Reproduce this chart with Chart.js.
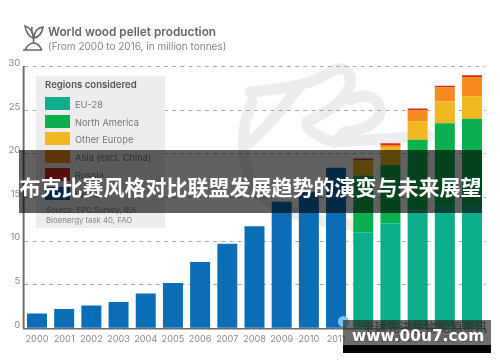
<!DOCTYPE html>
<html><head><meta charset="utf-8">
<script src="https://cdn.jsdelivr.net/npm/chart.js@4"></script>
<style>
html,body{margin:0;padding:0;background:#fff;width:500px;height:362px;overflow:hidden;font-family:Inter,"Open Sans",sans-serif}
.a{position:absolute;white-space:nowrap}
#art{position:absolute;left:0;top:0;filter:blur(.6px)}
#wrap{position:absolute;left:0;top:0;width:500px;height:362px;filter:blur(.45px)}
#legend{left:36px;top:76px;width:129px;height:152px;background:#ededed;filter:blur(.4px)}
.sw{position:absolute;left:9px;width:25px;height:13px}
.lb{position:absolute;left:39px;font-size:9.3px;color:#777;line-height:13px;white-space:nowrap}
</style></head><body>
<svg id="art" width="500" height="362" fill="none">
<g stroke="#ededed" stroke-width="11" stroke-linejoin="round" stroke-linecap="round">
<path d="M250 92 C290 88 310 85 330 72 C345 64 352 72 350 85 C345 105 320 115 307 122 C305 130 320 138 335 142"/>
<path d="M350 100 C368 92 378 98 380 110 C380 122 365 130 345 132 L335 142 L428 136"/>
<path d="M250 142 C265 130 285 105 300 86"/>
<path d="M252 102 C240 130 240 160 255 190 C280 215 320 222 360 226"/>
</g></svg>
<div id="wrap"><canvas id="c" width="500" height="362"></canvas></div>

<svg class="a" style="left:22px;top:24px;filter:blur(.4px)" width="24" height="28" fill="none" stroke="#666" stroke-width="1.6">
<path d="M3 2 C4 9 8 13 11 14 C12 9 9 4 3 2Z"/><path d="M21 3 C15 4 12 8 12 14 C17 13 20 9 21 3Z"/><path d="M10 3 C9 6 10 9 11 11"/>
<path d="M11.5 14 V19"/><path d="M1 26 H20 M3 26 C5 21 9 19 11.5 19 C15 19 18 22 20 26"/></svg>
<div class="a" style="left:48px;top:25px;font-size:11.8px;font-weight:600;color:#666;filter:blur(.4px)">World wood pellet production</div>
<div class="a" style="left:48px;top:40px;font-size:10px;color:#888;filter:blur(.4px)">(From 2000 to 2016, in million tonnes)</div>

<div class="a" id="legend"></div>

<div class="a" style="left:19px;top:150px;width:463px;height:62.5px;background:rgba(0,0,0,.62)"></div>
<div class="a" style="left:19px;top:168px;width:463px;text-align:center;font-family:'Noto Sans CJK SC';font-weight:700;font-size:21px;line-height:36px;color:#fff;letter-spacing:0">布克比赛风格对比联盟发展趋势的演变与未来展望</div>

<div class="a" style="left:338px;top:316px;width:11px;height:11px;border-radius:50%;background:#7cc4ea;filter:blur(.5px)"></div>
<div class="a" style="left:343px;top:320px;width:148px;height:25px;background:rgba(40,40,40,.68)"></div>
<div class="a" style="left:343px;top:345px;width:148px;height:8px;background:#000"></div>
<div class="a" style="left:362px;top:317px;font-family:'Noto Sans CJK SC';font-size:12.5px;line-height:20px;color:#333;filter:blur(.5px)">全球先进生物能源资讯</div>
<div class="a" style="left:352px;top:326px;font-family:'DejaVu Sans';font-weight:700;font-size:15.4px;line-height:20px;color:#fff">www.00u7.com</div>

<script>
const years=['2000','2001','2002','2003','2004','2005','2006','2007','2008','2009','2010','2011','2012','2013','2014','2015','2016'];
const world =[1.7,2.2,2.6,3.0,4.0,5.2,7.6,9.7,11.7,14.5,15.6,18.4,0,0,0,0,0];
const eu28  =[0,0,0,0,0,0,0,0,0,0,0,0,11,12,13.5,14,14];
const northAmerica=[0,0,0,0,0,0,0,0,0,0,0,0,6.5,6.7,8.1,9.5,10];
const otherEurope =[0,0,0,0,0,0,0,0,0,0,0,0,1.7,2.0,2.1,2.5,2.6];
const asia  =[0,0,0,0,0,0,0,0,0,0,0,0,0.05,0.3,1.3,1.6,2.2];
const russia=[0,0,0,0,0,0,0,0,0,0,0,0,0.2,0.2,0.2,0.2,0.2];
const yTicks=[0,5,10,15,20,25,30];
const regionNames=['EU-28','North America','Other Europe','Asia (excl. China)','Russia','World'];
const regionColors=['#0cae8c','#0bb04e','#f0b71e','#f58a1f','#d9281e','#0b6db5'];
const regionTops=[21,39,56,74,92,111];

const lg=document.getElementById('legend');
lg.innerHTML='<div style="position:absolute;left:9px;top:2px;font-size:9.6px;font-weight:600;color:#555;line-height:14px;white-space:nowrap">Regions considered</div>'+
regionNames.map((n,i)=>`<div class="sw" style="top:${regionTops[i]}px;background:${regionColors[i]}"></div><div class="lb" style="top:${regionTops[i]+1}px">${n}</div>`).join('')+
'<div class="lb" style="left:10px;top:129px;font-size:7.8px;color:#888;line-height:10px">Source: EPC Survey, IEA<br>Bioenergy task 40, FAO</div>';

const series=[world,eu28,northAmerica,otherEurope,asia,russia];
const idx=[5,0,1,2,3,4];
new Chart(document.getElementById('c'),{
 type:'bar',
 data:{labels:years,datasets:series.map((d,i)=>({label:regionNames[idx[i]],data:d,backgroundColor:regionColors[idx[i]],borderWidth:0,barPercentage:.735,categoryPercentage:1}))},
 options:{responsive:false,animation:false,
  layout:{padding:{left:0,top:66.5,right:14.4,bottom:0}},
  plugins:{legend:{display:false},title:{display:false},tooltip:{enabled:false}},
  scales:{
   x:{stacked:true,offset:true,grid:{display:false,drawTicks:false},border:{color:'#6b6b6b',width:1.5},
      ticks:{color:'#8a8a8a',font:{size:9.2,family:'Inter'},padding:5,maxRotation:0,autoSkip:false},
      afterFit:s=>{s.height=33.7}},
   y:{stacked:true,min:0,max:30,afterBuildTicks:s=>{s.ticks=yTicks.map(v=>({value:v}))},
      grid:{color:c=>c.tick&&c.tick.value===0?'transparent':'#a8a8a8',drawTicks:false,lineWidth:1},
      border:{color:'#6b6b6b',width:1.5,dash:[4,4.2],dashOffset:0},
      ticks:{color:'#8a8a8a',font:{size:9.6,family:'Inter'},padding:3,labelOffset:-3.5},
      afterFit:s=>{s.width=23.4}}
  }
 },
 plugins:[{id:'solidAxis',afterDraw(ch){const a=ch.chartArea,x=ch.ctx;x.save();x.strokeStyle='#6b6b6b';x.lineWidth=1.5;x.beginPath();x.moveTo(a.left,a.top);x.lineTo(a.left,a.bottom);x.stroke();x.restore();}}]
});
</script>
</body></html>
